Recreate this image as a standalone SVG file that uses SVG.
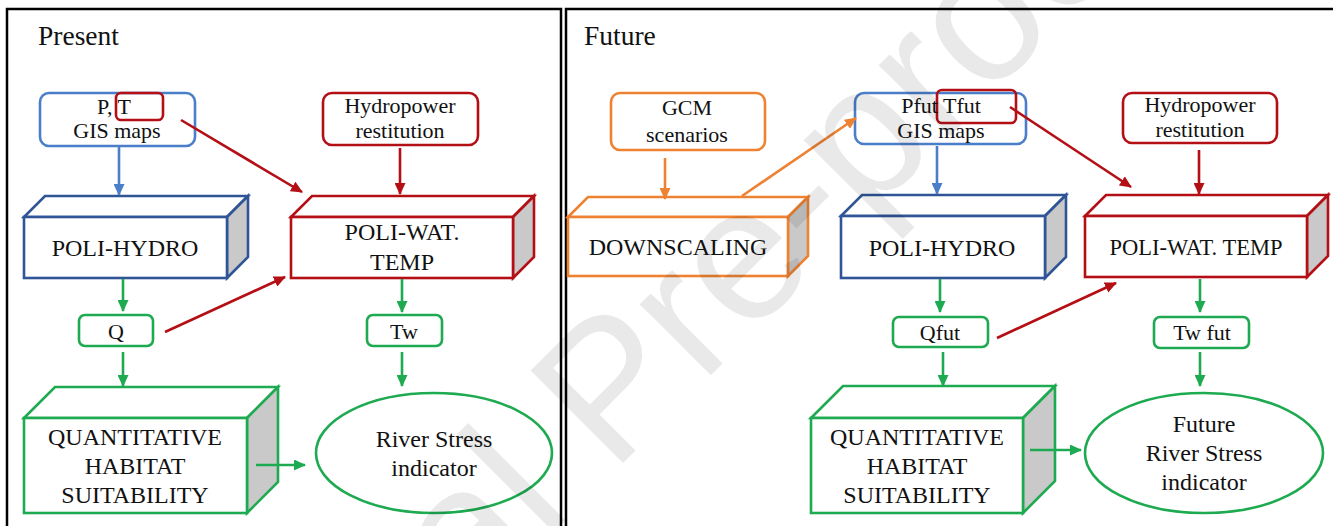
<svg xmlns="http://www.w3.org/2000/svg" width="1333" height="526" viewBox="0 0 1333 526" font-family="'Liberation Serif', 'Times New Roman', 'DejaVu Serif', serif">
  <style>
    .t { font-family: "Liberation Serif", "Times New Roman", "DejaVu Serif", serif; fill: #111; text-anchor: middle; }
    .title { font-size: 27.5px; text-anchor: start; }
    .lbl { font-size: 24px; }
    .sm { font-size: 22px; }
    .frame { fill: none; stroke: #000; stroke-width: 2.5; }
    .box { fill: #fff; stroke-width: 2.6; }
    .hole { fill: none; stroke-width: 2.6; }
    .side { fill: #c9c9c9; stroke-width: 2.6; }
    .blue { stroke: #4a7ec8; }
    .navy { stroke: #2f5597; }
    .red { stroke: #b50f16; }
    .green { stroke: #1eaa50; }
    .orange { stroke: #ee8232; }
    .ln { fill: none; stroke-width: 2.6; }
    .wm { font-family: "Liberation Sans", Arial, sans-serif; font-size: 190px; fill: #000; fill-opacity: 0.085; }
  </style>
  <defs>
    <marker id="ah-blue" viewBox="0 0 12 11" refX="11" refY="5.5" markerWidth="12" markerHeight="11" markerUnits="userSpaceOnUse" orient="auto"><path d="M0,0 L12,5.5 L0,11 z" fill="#4a7ec8"/></marker>
    <marker id="ah-red" viewBox="0 0 12 11" refX="11" refY="5.5" markerWidth="12" markerHeight="11" markerUnits="userSpaceOnUse" orient="auto"><path d="M0,0 L12,5.5 L0,11 z" fill="#b50f16"/></marker>
    <marker id="ah-green" viewBox="0 0 12 11" refX="11" refY="5.5" markerWidth="12" markerHeight="11" markerUnits="userSpaceOnUse" orient="auto"><path d="M0,0 L12,5.5 L0,11 z" fill="#1eaa50"/></marker>
    <marker id="ah-orange" viewBox="0 0 12 11" refX="11" refY="5.5" markerWidth="12" markerHeight="11" markerUnits="userSpaceOnUse" orient="auto"><path d="M0,0 L12,5.5 L0,11 z" fill="#ee8232"/></marker>
  </defs>

  <rect width="1333" height="526" fill="#fff"/>

  <!-- panel frames -->
  <rect class="frame" x="7" y="9" width="554" height="530"/>
  <rect class="frame" x="566" y="9" width="780" height="530"/>
  <text class="t title" x="38" y="45">Present</text>
  <text class="t title" x="584" y="45">Future</text>

  <!-- ===== Present panel ===== -->
  <g id="pt-maps">
    <rect class="box blue" x="40" y="93" width="155" height="53" rx="9"/>
    <rect class="hole red" x="116" y="93" width="47" height="27" rx="5"/>
    <text class="t sm" x="114" y="114">P, T</text>
    <text class="t sm" x="117" y="138">GIS maps</text>
  </g>
  <g id="hydropower">
    <rect class="box red" x="323" y="93" width="155" height="52" rx="9"/>
    <text class="t sm" x="400" y="113">Hydropower</text>
    <text class="t sm" x="400" y="138">restitution</text>
  </g>
  <g id="poli-hydro">
    <polygon class="box navy" points="24,217 45,196 248,196 227,217"/>
    <polygon class="side navy" points="227,217 248,196 248,257 227,278"/>
    <rect class="box navy" x="24" y="217" width="203" height="61"/>
    <text class="t lbl" x="125" y="256">POLI-HYDRO</text>
  </g>
  <g id="poli-wat-temp">
    <polygon class="box red" points="291,217 312,196 534,196 513,217"/>
    <polygon class="side red" points="513,217 534,196 534,257 513,278"/>
    <rect class="box red" x="291" y="217" width="222" height="61"/>
    <text class="t lbl" x="402" y="240">POLI-WAT.</text>
    <text class="t lbl" x="402" y="270">TEMP</text>
  </g>
  <g id="q">
    <rect class="box green" x="79" y="315" width="74" height="31" rx="6"/>
    <text class="t sm" x="116" y="339">Q</text>
  </g>
  <g id="tw">
    <rect class="box green" x="367" y="315" width="75" height="31" rx="6"/>
    <text class="t sm" x="404" y="339">Tw</text>
  </g>
  <g id="habitat">
    <polygon class="box green" points="24,418 55,387 278,387 247,418"/>
    <polygon class="side green" points="247,418 278,387 278,482 247,513"/>
    <rect class="box green" x="24" y="418" width="223" height="95"/>
    <text class="t lbl" x="135" y="445">QUANTITATIVE</text>
    <text class="t lbl" x="135" y="474">HABITAT</text>
    <text class="t lbl" x="135" y="503">SUITABILITY</text>
  </g>
  <g id="river-stress">
    <ellipse class="box green" cx="434" cy="453" rx="118" ry="60"/>
    <text class="t lbl" x="434" y="447">River Stress</text>
    <text class="t lbl" x="434" y="476">indicator</text>
  </g>

  <!-- ===== Future panel ===== -->
  <g id="gcm">
    <rect class="box orange" x="611" y="93" width="154" height="57" rx="9"/>
    <text class="t sm" x="687" y="115">GCM</text>
    <text class="t sm" x="687" y="142">scenarios</text>
  </g>
  <g id="downscaling">
    <polygon class="box orange" points="568,217 588,197 808,197 788,217"/>
    <polygon class="side orange" points="788,217 808,197 808,256 788,276"/>
    <rect class="box orange" x="568" y="217" width="220" height="59"/>
    <text class="t lbl" x="678" y="255">DOWNSCALING</text>
  </g>
  <g id="pt-fut-maps">
    <rect class="box blue" x="855" y="93" width="171" height="51" rx="9"/>
    <rect class="hole red" x="937" y="90" width="79" height="33" rx="5"/>
    <text class="t sm" x="941" y="113">Pfut  Tfut</text>
    <text class="t sm" x="941" y="138">GIS maps</text>
  </g>
  <g id="hydropower-fut">
    <rect class="box red" x="1123" y="93" width="154" height="50" rx="9"/>
    <text class="t sm" x="1200" y="112">Hydropower</text>
    <text class="t sm" x="1200" y="137">restitution</text>
  </g>
  <g id="poli-hydro-fut">
    <polygon class="box navy" points="841,216 862,195 1066,195 1045,216"/>
    <polygon class="side navy" points="1045,216 1066,195 1066,257 1045,278"/>
    <rect class="box navy" x="841" y="216" width="204" height="62"/>
    <text class="t lbl" x="942" y="256">POLI-HYDRO</text>
  </g>
  <g id="poli-wat-temp-fut">
    <polygon class="box red" points="1085,216 1106,195 1328,195 1307,216"/>
    <polygon class="side red" points="1307,216 1328,195 1328,256 1307,277"/>
    <rect class="box red" x="1085" y="216" width="222" height="61"/>
    <text class="t lbl" x="1196" y="255" style="font-size:22.5px">POLI-WAT. TEMP</text>
  </g>
  <g id="qfut">
    <rect class="box green" x="893" y="317" width="95" height="30" rx="6"/>
    <text class="t sm" x="940" y="340">Qfut</text>
  </g>
  <g id="twfut">
    <rect class="box green" x="1154" y="317" width="95" height="31" rx="6"/>
    <text class="t sm" x="1202" y="340">Tw fut</text>
  </g>
  <g id="habitat-fut">
    <polygon class="box green" points="811,418 843,386 1055,386 1023,418"/>
    <polygon class="side green" points="1023,418 1055,386 1055,481 1023,513"/>
    <rect class="box green" x="811" y="418" width="212" height="95"/>
    <text class="t lbl" x="917" y="445">QUANTITATIVE</text>
    <text class="t lbl" x="917" y="474">HABITAT</text>
    <text class="t lbl" x="917" y="503">SUITABILITY</text>
  </g>
  <g id="river-stress-fut">
    <ellipse class="box green" cx="1204" cy="453" rx="119" ry="60"/>
    <text class="t lbl" x="1204" y="432">Future</text>
    <text class="t lbl" x="1204" y="461">River Stress</text>
    <text class="t lbl" x="1204" y="490">indicator</text>
  </g>

  <!-- connectors -->
  <g id="connectors">
    <line class="ln blue" x1="119" y1="147" x2="119" y2="195" marker-end="url(#ah-blue)"/>
    <line class="ln red" x1="181" y1="120" x2="302" y2="192" marker-end="url(#ah-red)"/>
    <line class="ln red" x1="400" y1="148" x2="400" y2="194" marker-end="url(#ah-red)"/>
    <line class="ln green" x1="123" y1="279" x2="123" y2="311" marker-end="url(#ah-green)"/>
    <line class="ln red" x1="165" y1="332" x2="285" y2="277" marker-end="url(#ah-red)"/>
    <line class="ln green" x1="123" y1="352" x2="123" y2="386" marker-end="url(#ah-green)"/>
    <line class="ln green" x1="402" y1="279" x2="402" y2="312" marker-end="url(#ah-green)"/>
    <line class="ln green" x1="402" y1="352" x2="402" y2="386" marker-end="url(#ah-green)"/>
    <line class="ln green" x1="256" y1="465" x2="305" y2="465" marker-end="url(#ah-green)"/>

    <line class="ln orange" x1="665" y1="158" x2="665" y2="199" marker-end="url(#ah-orange)"/>
    <line class="ln orange" x1="742" y1="196" x2="856" y2="118" marker-end="url(#ah-orange)"/>
    <line class="ln blue" x1="937" y1="146" x2="937" y2="194" marker-end="url(#ah-blue)"/>
    <line class="ln red" x1="1010" y1="107" x2="1131" y2="187" marker-end="url(#ah-red)"/>
    <line class="ln red" x1="1199" y1="150" x2="1199" y2="194" marker-end="url(#ah-red)"/>
    <line class="ln green" x1="940" y1="279" x2="940" y2="312" marker-end="url(#ah-green)"/>
    <line class="ln red" x1="997" y1="338" x2="1116" y2="283" marker-end="url(#ah-red)"/>
    <line class="ln green" x1="943" y1="352" x2="943" y2="386" marker-end="url(#ah-green)"/>
    <line class="ln green" x1="1200" y1="279" x2="1200" y2="312" marker-end="url(#ah-green)"/>
    <line class="ln green" x1="1200" y1="352" x2="1200" y2="386" marker-end="url(#ah-green)"/>
    <line class="ln green" x1="1030" y1="450" x2="1081" y2="450" marker-end="url(#ah-green)"/>
  </g>

  <!-- diagonal overlay lettering -->
  <text class="wm" transform="translate(134,952) rotate(-45)">Journal Pre-proof</text>
</svg>
